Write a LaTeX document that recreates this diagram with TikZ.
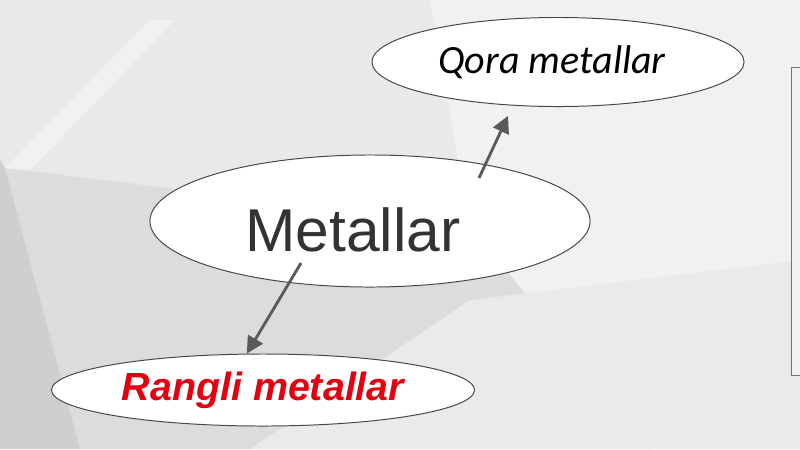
\documentclass[tikz,border=0pt]{standalone}
\usepackage{fontspec}
\usepackage{xcolor}
\usetikzlibrary{positioning, shapes.geometric, arrows.meta}
\newfontfamily\arialfont{Liberation Sans}
\newfontfamily\calfont{Carlito}
\definecolor{bgbase}{HTML}{E9E9E9}
\definecolor{bgdark}{HTML}{CFCFCF}
\definecolor{bgmid}{HTML}{DCDCDC}
\definecolor{bglight}{HTML}{F1F1F1}
\definecolor{arrowgrey}{HTML}{595959}
\definecolor{rangred}{HTML}{E3000F}
\tikzset{
  oval/.style={ellipse, draw=black!72, line width=0.7pt, fill=white, inner sep=0pt},
  linkarrow/.style={-{Triangle[length=12pt,width=12pt]}, draw=arrowgrey, line width=2pt},
}

\begin{document}
\begin{tikzpicture}[x=0.025cm, y=-0.025cm]

% fon
\fill[bgbase] (0,0) rectangle (800,449);
\useasboundingbox (0,0) rectangle (800,449);
\fill[bglight] (430,0) -- (800,0) -- (800,449) -- (640,449) -- (470,230) -- cycle;
\fill[bgmid] (5,168) -- (470,225) -- (650,449) -- (80,449) -- cycle;
\fill[bgdark] (0,160) -- (5,168) -- (80,449) -- (0,449) -- cycle;
\fill[white!35!bgbase] (5,168) -- (150,20) -- (175,20) -- (30,170) -- cycle;
\fill[white!40!bgmid] (250,449) -- (470,300) -- (800,260) -- (800,449) -- cycle;
\draw[black!55, fill=bglight] (791,67) rectangle (805,375);

% ovallar
\node[oval, minimum width=11cm, minimum height=3.3cm] (met) at (370,221)
  {\raisebox{-0.75cm}[0pt][0pt]{\arialfont\fontsize{43}{47}\selectfont\color{black!80}Metallar}\hspace*{0.85cm}};
\node[oval, minimum width=9.3cm, minimum height=2.225cm] (qora) at (558,62)
  {\calfont\itshape\fontsize{28.5}{32}\selectfont Qora metallar\hspace*{0.3cm}};
\node[oval, minimum width=10.575cm, minimum height=1.8cm] (rang) at (263,390)
  {\arialfont\bfseries\itshape\fontsize{28}{32}\selectfont\color{rangred}Rangli metallar};

% strelkalar
\coordinate (qstart) at (479,178);
\coordinate (rstart) at (301,263);
\draw[linkarrow, shorten >=8pt] (qstart) -- (qora.224);
\draw[linkarrow] (rstart) -- (rang.114);

\end{tikzpicture}
\end{document}
